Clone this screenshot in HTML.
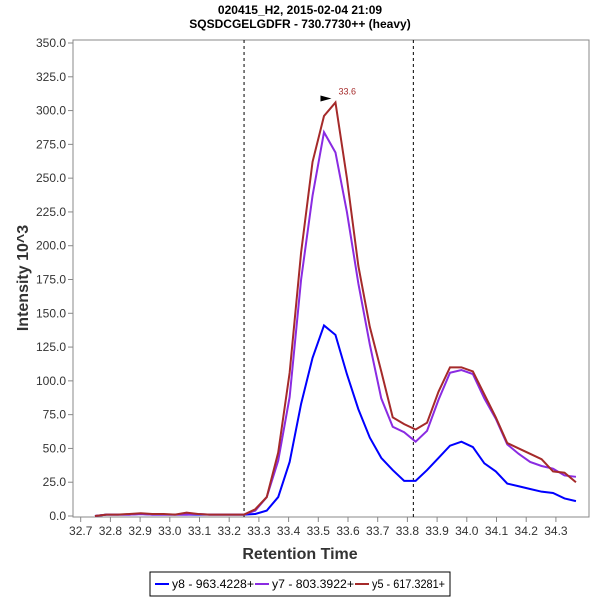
<!DOCTYPE html>
<html><head><meta charset="utf-8"><style>body{margin:0;background:#fff}svg{display:block;font-family:"Liberation Sans",sans-serif}</style></head>
<body>
<svg id="c" width="600" height="600">
<text x="300" y="14" text-anchor="middle" font-size="12" font-weight="bold">020415_H2, 2015-02-04 21:09</text>
<text x="300" y="28" text-anchor="middle" font-size="12" font-weight="bold">SQSDCGELGDFR - 730.7730++ (heavy)</text>
<rect x="73" y="40" width="516" height="477" fill="none" stroke="#888"/>
<g id="ax"></g><g id="ser"></g>
<text x="300" y="559" text-anchor="middle" font-size="16" font-weight="bold" fill="#333">Retention Time</text>
<text transform="translate(28,278) rotate(-90)" text-anchor="middle" font-size="16" font-weight="bold" fill="#333">Intensity 10^3</text>
<g>
<rect x="150" y="572" width="300" height="24" fill="#fff" stroke="#000"/>
<line x1="155" y1="584" x2="169" y2="584" stroke="#00f" stroke-width="2"/><text x="172" y="588" font-size="12" textLength="82" lengthAdjust="spacingAndGlyphs">y8 - 963.4228+</text>
<line x1="255" y1="584" x2="269" y2="584" stroke="#8a2be2" stroke-width="2"/><text x="272" y="588" font-size="12" textLength="82" lengthAdjust="spacingAndGlyphs">y7 - 803.3922+</text>
<line x1="355" y1="584" x2="369" y2="584" stroke="#a52a2a" stroke-width="2"/><text x="372" y="588" font-size="12" textLength="73" lengthAdjust="spacingAndGlyphs">y5 - 617.3281+</text>
</g>
</svg>
<script>
const times=[];for(let i=0;i<43;i++)times.push(+(32.748+i*0.03856).toFixed(4));
const y8=[0,1,1,1,1.5,1,1,1,1,1,1,1,1,1,1.5,4,14,40,83,117,141,134,105,79,58,43,34,26,26,34,43,52,55,51,39,33,24,22,20,18,17,13,11];
const y7=[0,1,1,1,1.5,1,1,1,1,1.5,1,1,1,1,4,14,41,88,175,237,284,269,225,172,127,87,66,62,55,63,86,106,108,105,87,72,53,46,40,37,35,30,29];
const y5=[0,1,1,1.5,2,1.5,1.5,1,2.5,1.5,1,1,1,1,5,14,47,106,195,262,296,306,250,185,140,107,73,68,64,69,92,110,110,107,90,73,54,50,46,42,33,32,25];
const yTicks=[0,25,50,75,100,125,150,175,200,225,250,275,300,325,350];
const xTicks=[32.7,32.8,32.9,33.0,33.1,33.2,33.3,33.4,33.5,33.6,33.7,33.8,33.9,34.0,34.1,34.2,34.3];
const markers=[33.25,33.82];
const peakLabel="33.6", peakIndex=21;
const X=v=>80.7+(v-32.7)*297, Y=v=>516-v*1.3514;
const NS="http://www.w3.org/2000/svg";
function mk(p,t,a){const e=document.createElementNS(NS,t);for(const k in a)e.setAttribute(k,a[k]);p.appendChild(e);return e;}
const ax=document.getElementById('ax'),ser=document.getElementById('ser');
yTicks.forEach(v=>{mk(ax,'line',{x1:68,x2:73,y1:Y(v),y2:Y(v),stroke:'#888'});
const t=mk(ax,'text',{x:66,y:Y(v)+4,'text-anchor':'end','font-size':12,fill:'#333'});t.textContent=v.toFixed(1);

});
xTicks.forEach(v=>{mk(ax,'line',{x1:X(v),x2:X(v),y1:517,y2:522,stroke:'#888'});
const t=mk(ax,'text',{x:X(v),y:535,'text-anchor':'middle','font-size':12,fill:'#333'});t.textContent=v.toFixed(1);

});
markers.forEach(v=>{const l=mk(ax,'line',{x1:X(v),x2:X(v),y1:40,y2:517,stroke:'#000','stroke-dasharray':'3,3'});

});
[[y8,'#00f','series-y8'],[y7,'#8a2be2','series-y7'],[y5,'#a52a2a','series-y5']].forEach(([d,c,n])=>{
const p=mk(ser,'polyline',{points:d.map((v,i)=>X(times[i])+','+Y(v)).join(' '),fill:'none',stroke:c,'stroke-width':2});

});
const px=X(times[peakIndex]),py=Y(y5[peakIndex]);
const tri=mk(ser,'polygon',{points:`${px-15},${py-7} ${px-15},${py-1} ${px-4},${py-4}`,fill:'#000'});


const pl=mk(ser,'text',{x:px+3,y:py-8,'font-size':9,fill:'#a52a2a'});pl.textContent=peakLabel;


</script>
</body></html>
